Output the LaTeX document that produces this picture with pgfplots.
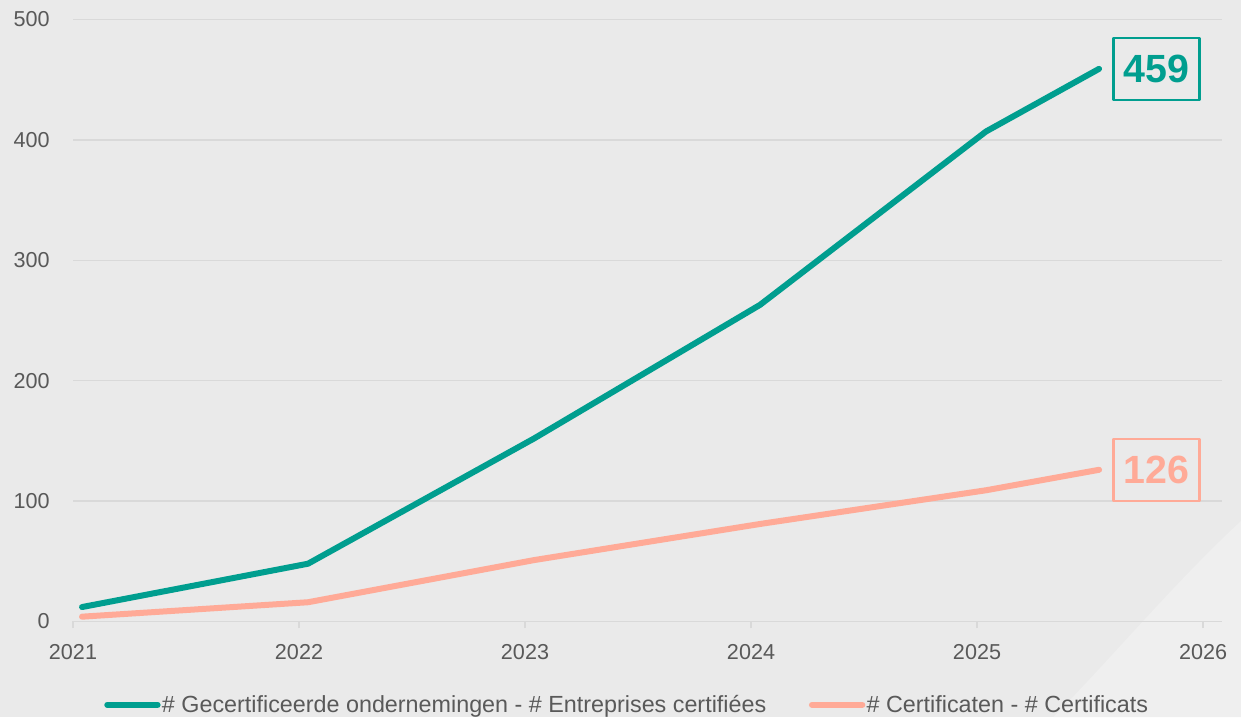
\documentclass[border=0pt]{standalone}
\usepackage{pgfplots}
\pgfplotsset{compat=1.18}
\usepackage{fontspec}
\setmainfont{Liberation Sans}

\definecolor{bgc}{HTML}{EAEAEA}
\definecolor{bglight}{HTML}{EFEFEF}
\definecolor{gridc}{HTML}{D9D9D9}
\definecolor{txt}{HTML}{595959}
\definecolor{teal}{HTML}{009E8F}
\definecolor{salmon}{HTML}{FFAA97}

\begin{document}
\begin{tikzpicture}
% background (1 px = 0.75pt)
\fill[bgc] (0,0) rectangle (930.75pt,537.75pt);
\fill[bglight] (930.75pt,147pt) .. controls (880pt,100pt) and (830pt,40pt) .. (790pt,0pt) -- (930.75pt,0pt) -- cycle;
\begin{axis}[
  at={(54.75pt,71.625pt)}, anchor=south west,
  scale only axis, width=861.75pt, height=451.5pt,
  xmin=2021, xmax=2026.084, ymin=0, ymax=500,
  xtick={2021,2022,2023,2024,2025,2026},
  ytick={0,100,200,300,400,500},
  axis x line*=bottom, axis y line*=left,
  x axis line style={draw=gridc, line width=1.1pt, -},
  y axis line style={draw=none},
  xtick align=outside, major tick length=5pt,
  xtick style={draw=gridc, line width=1.1pt},
  ytick style={draw=none},
  ymajorgrids, grid style={draw=gridc, line width=1.1pt},
  tick label style={font=\fontsize{16.2}{18}\selectfont, text=txt},
  /pgf/number format/assume math mode=true,
  /pgf/number format/1000 sep={},
  xticklabel style={yshift=-9pt},
  yticklabel style={xshift=-14pt},
  legend columns=2,
  legend style={at={(axis description cs:0.5,0)}, anchor=center, xshift=-15.5pt, yshift=-62.5pt,
    draw=none, fill=none, inner sep=0pt,
    font=\fontsize{17.5}{20}\selectfont, text=txt,
    nodes={inner sep=1pt},
    /tikz/every even column/.append style={column sep=31pt}},
  legend image code/.code={\draw[#1, line width=4.5pt, line cap=round] (2.25pt,0pt) -- (40pt,0pt);},
]
\addplot[teal, line width=4.5pt, line cap=round, line join=round] coordinates {
  (2021.04,12) (2022.04,48) (2023.04,152) (2024.04,263) (2025.04,407) (2025.54,459)
} node[pos=1, anchor=west, xshift=10pt, draw=teal, line width=1.7pt, minimum width=64.5pt, minimum height=46.5pt, inner sep=0pt, text=teal, font=\fontsize{29.5}{32}\bfseries\selectfont] {459};
\addlegendentry{\# Gecertificeerde ondernemingen - \# Entreprises certifiées}
\addplot[salmon, line width=4.5pt, line cap=round, line join=round] coordinates {
  (2021.04,4) (2022.04,16) (2023.04,51) (2024.04,81) (2025.04,109) (2025.54,126)
} node[pos=1, anchor=west, xshift=10pt, draw=salmon, line width=1.7pt, minimum width=64.5pt, minimum height=46.5pt, inner sep=0pt, text=salmon, font=\fontsize{29.5}{32}\bfseries\selectfont] {126};
\addlegendentry{\# Certificaten - \# Certificats}
\end{axis}
\pgfresetboundingbox
\useasboundingbox (0,0) rectangle (930.75pt,537.75pt);
\end{tikzpicture}
\end{document}
